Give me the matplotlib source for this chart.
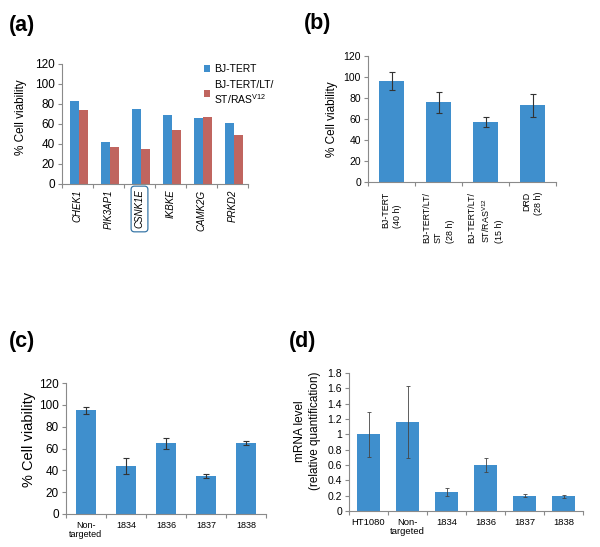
import matplotlib
matplotlib.use("Agg")
import matplotlib.pyplot as plt
import numpy as np

plt.rcParams['font.family'] = ['Liberation Sans', 'DejaVu Sans']

BLUE = '#3f8fcd'
RED = '#c0655f'
GRAY = '#8a8a8a'

# (a)
genes = ['CHEK1', 'PIK3AP1', 'CSNK1E', 'IKBKE', 'CAMK2G', 'PRKD2']
bj_tert = [83, 42, 75, 69, 66, 61]
bj_ras = [74, 37, 35, 54, 67, 49]

# (b)
b_labels = ['BJ-TERT\n(40 h)', 'BJ-TERT/LT/\nST\n(28 h)',
            'BJ-TERT/LT/\nST/RAS$^{\\mathregular{V12}}$\n(15 h)', 'DRD\n(28 h)']
b_vals = [96, 76, 57, 73]
b_err = [8.5, 10, 5, 11]

# (c)
c_labels = ['Non-\ntargeted', '1834', '1836', '1837', '1838']
c_vals = [95, 44, 65, 35, 65]
c_err = [3, 7.5, 5, 2, 2]

# (d)
d_labels = ['HT1080', 'Non-\ntargeted', '1834', '1836', '1837', '1838']
d_vals = [1.0, 1.16, 0.25, 0.60, 0.20, 0.19]
d_err = [0.29, 0.47, 0.055, 0.085, 0.02, 0.02]

W, H = 600, 547
fig = plt.figure(figsize=(6, 5.47), dpi=100)


def add_ax(l, r, t, b):
    return fig.add_axes([l / W, 1 - b / H, (r - l) / W, (b - t) / H])


def style(ax, n, ymax, ystep, fs=7.5):
    ax.set_xlim(-0.5, n - 0.5)
    ax.set_ylim(0, ymax)
    for s in ['top', 'right']:
        ax.spines[s].set_visible(False)
    for s in ['left', 'bottom']:
        ax.spines[s].set_color(GRAY)
        ax.spines[s].set_linewidth(0.8)
    ax.set_xticks(np.arange(-0.5, n, 1.0), minor=True)
    ax.tick_params(axis='x', which='minor', length=3, color=GRAY, width=0.8)
    ax.tick_params(axis='x', which='major', length=0)
    ax.tick_params(axis='y', length=3, color=GRAY, width=0.8, labelsize=fs, pad=2)
    ax.set_yticks(np.arange(0, ymax + ystep / 2, ystep))


# ---- (a)
axa = add_ax(62, 248, 64, 184)
x = np.arange(len(genes))
w = 0.3
ba = axa.bar(x - w / 2 + 0.05, bj_tert, w, color=BLUE, label='BJ-TERT')
bb = axa.bar(x + w / 2 + 0.05, bj_ras, w, color=RED,
             label='BJ-TERT/LT/\nST/RAS$^{\\mathregular{V12}}$')
style(axa, len(genes), 120, 20, fs=8.5)
axa.set_xticks(x)
axa.set_xticklabels(genes, rotation=90, fontstyle='italic', fontsize=7)
axa.tick_params(axis='x', which='major', pad=4)
lbl = axa.get_xticklabels()[2]
lbl.set_bbox(dict(boxstyle='round,pad=0.35', fc='none', ec='#3a78a8', lw=0.9))
axa.set_ylabel('% Cell viability', fontsize=8.5)
axa.yaxis.set_label_coords(-0.19, 0.56)
axa.legend(handles=[ba, bb], loc='upper left', bbox_to_anchor=(0.74, 1.035),
           frameon=False, fontsize=7.5, handlelength=0.6, handleheight=0.6,
           handletextpad=0.4, labelspacing=0.6, borderaxespad=0)

# ---- (b)
axb = add_ax(368, 556, 56, 182)
xb = np.arange(len(b_vals))
axb.bar(xb, b_vals, 0.55, color=BLUE)
axb.errorbar(xb, b_vals, yerr=b_err, fmt='none', ecolor='#333333',
             elinewidth=0.8, capsize=2, capthick=0.8)
style(axb, len(b_vals), 120, 20, fs=7.5)
axb.set_xticks(xb)
axb.set_xticklabels(b_labels, rotation=90, fontsize=6.4, ha='center', va='top',
                    linespacing=1.4)
for i, t in enumerate(axb.get_xticklabels()):
    t.set_multialignment('right' if i == 3 else 'left')
axb.tick_params(axis='x', which='major', pad=7)
axb.set_ylabel('% Cell viability', fontsize=8.5, labelpad=4)

# ---- (c)
axc = add_ax(66, 266, 383, 514)
xc = np.arange(len(c_vals))
axc.bar(xc, c_vals, 0.52, color=BLUE)
axc.errorbar(xc, c_vals, yerr=c_err, fmt='none', ecolor='#333333',
             elinewidth=0.8, capsize=2, capthick=0.8)
style(axc, len(c_vals), 120, 20, fs=8.5)
axc.set_xticks(xc)
axc.set_xticklabels(c_labels, fontsize=6.5, linespacing=1.0)
axc.tick_params(axis='x', which='major', pad=5)
axc.set_ylabel('% Cell viability', fontsize=10.5)
axc.yaxis.set_label_coords(-0.15, 0.57)

# ---- (d)
axd = add_ax(349, 583, 373, 511)
xd = np.arange(len(d_vals))
axd.bar(xd, d_vals, 0.57, color=BLUE)
axd.errorbar(xd, d_vals, yerr=d_err, fmt='none', ecolor='#444444',
             elinewidth=0.6, capsize=1.5, capthick=0.6)
style(axd, len(d_vals), 1.8, 0.2, fs=7.5)
axd.set_yticks(np.arange(0, 1.81, 0.2))
axd.set_yticklabels(['0', '0.2', '0.4', '0.6', '0.8', '1', '1.2', '1.4', '1.6', '1.8'])
axd.set_xticks(xd)
axd.set_xticklabels(d_labels, fontsize=6.8, linespacing=1.0)
axd.tick_params(axis='x', which='major', pad=5)
axd.set_ylabel('mRNA level\n(relative quantification)', fontsize=8.5,
               linespacing=1.3)
axd.yaxis.set_label_coords(-0.12, 0.58)

# panel labels
for txt, px, py in [('(a)', 9, 26), ('(b)', 304, 23), ('(c)', 9, 341), ('(d)', 289, 342)]:
    fig.text(px / W, 1 - py / H, txt, fontsize=15.5, fontweight='bold', va='center')

fig.savefig('out.png', dpi=100)
